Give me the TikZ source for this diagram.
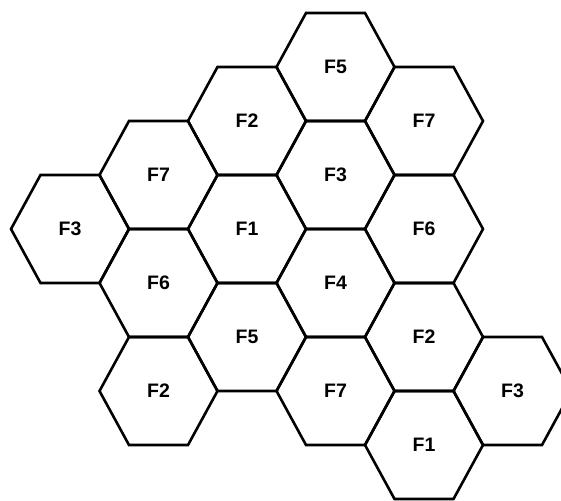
\documentclass[tikz,border=0pt]{standalone}
\usepackage{fontspec}
\setmainfont{Liberation Sans}
\begin{document}
\begin{tikzpicture}[x=1pt,y=-1pt,
  hexlabel/.style={font=\fontsize{19.5}{21}\selectfont\bfseries, inner sep=0pt},
  hexedge/.style={line width=2.6pt, line join=miter, draw=black}]
\useasboundingbox[fill=white] (0,0) rectangle (561,500);
\foreach \c/\m/\t/\n in {
  0/3/F3/h03,
  1/2/F7/h12, 1/4/F6/h14, 1/6/F2/h16,
  2/1/F2/h21, 2/3/F1/h23, 2/5/F5/h25,
  3/0/F5/h30, 3/2/F3/h32, 3/4/F4/h34, 3/6/F7/h36,
  4/1/F7/h41, 4/3/F6/h43, 4/5/F2/h45, 4/7/F1/h47,
  5/6/F3/h56} {
  \node[hexlabel] (\n) at ({70+88.5*\c},{67+54*\m}) {\t};
  \draw[hexedge] (\n.center) ++(-59,0) -- ++(29.5,-54) -- ++(59,0) -- ++(29.5,54)
     -- ++(-29.5,54) -- ++(-59,0) -- cycle;
}
\end{tikzpicture}
\end{document}
